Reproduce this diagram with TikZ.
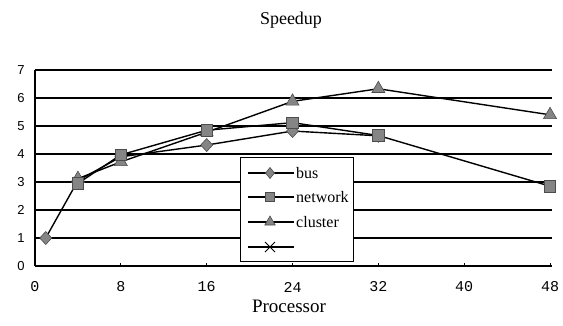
\documentclass[tikz,border=0pt]{standalone}
\usepackage{fontspec}
\setmainfont{Liberation Serif}
\newfontfamily\ylabfont{Liberation Sans}
\newfontfamily\xlabfont{Liberation Mono}
\usetikzlibrary{shapes.geometric}
\definecolor{markgray}{HTML}{858585}

\begin{document}
\begin{tikzpicture}[x=1pt,y=-1pt,
  gridline/.style={line width=1.3pt},
  series/.style={line width=1.4pt, line join=round},
  mk/.style={fill=markgray, draw=black!70, line width=0.6pt, inner sep=0pt, outer sep=0pt},
  dia/.style={mk, diamond, minimum width=12pt, minimum height=13pt},
  sq/.style={mk, rectangle, minimum size=11.5pt},
  tri/.style={mk, regular polygon, regular polygon sides=3, minimum size=15pt},
  ldia/.style={mk, diamond, minimum width=9pt, minimum height=11pt},
  lsq/.style={mk, rectangle, minimum size=9pt},
  ltri/.style={mk, regular polygon, regular polygon sides=3, minimum size=12pt},
  ylab/.style={font=\ylabfont\fontsize{13}{13}\selectfont},
  xlab/.style={font=\xlabfont\fontsize{15}{15}\selectfont},
  legtext/.style={font=\fontsize{16}{16}\selectfont, anchor=west, inner sep=0pt},
]
\useasboundingbox (0,0) rectangle (563,325);

% titles
\node (title) at (291,20) {\fontsize{18}{18}\selectfont Speedup};
\node (xtitle) at (289,306) {\fontsize{19}{19}\selectfont Processor};

% horizontal grid lines and y labels
\foreach \v in {0,...,7} {
  \draw[gridline] (35,{266-28*\v}) -- (552,{266-28*\v});
  \node[ylab] (y\v) at (21,{266-28*\v}) {\v};
}
% y axis
\draw[gridline] (35,70) -- (35,266);

% x ticks and labels
\foreach \v in {0,8,...,48} {
  \draw[line width=1pt] ({35+10.73*\v},266) -- ({35+10.73*\v},262.5);
  \node[xlab] (x\v) at ({35+10.73*\v},287) {\v};
}

% data coordinates
\begin{scope}[shift={(35,266)}, x=10.73pt, y=28pt]
  % bus
  \coordinate (b1) at (1,1);
  \coordinate (b2) at (4,3.05);
  \coordinate (b3) at (8,3.9);
  \coordinate (b4) at (16,4.32);
  \coordinate (b5) at (24,4.82);
  \coordinate (b6) at (32,4.65);
  % network
  \coordinate (n2) at (4,2.95);
  \coordinate (n3) at (8,3.97);
  \coordinate (n4) at (16,4.85);
  \coordinate (n5) at (24,5.12);
  \coordinate (n6) at (32,4.66);
  \coordinate (n7) at (48,2.85);
  % cluster
  \coordinate (c2) at (4,3.12);
  \coordinate (c3) at (8,3.72);
  \coordinate (c4) at (16,4.78);
  \coordinate (c5) at (24,5.88);
  \coordinate (c6) at (32,6.33);
  \coordinate (c7) at (48,5.4);
\end{scope}

% series lines
\draw[series] (b1) -- (b2) -- (b3) -- (b4) -- (b5) -- (b6);
\draw[series] (c2) -- (c3) -- (c4) -- (c5) -- (c6) -- (c7);
\draw[series] (n2) -- (n3) -- (n4) -- (n5) -- (n6) -- (n7);

% markers
\foreach \p in {b1,b2,b3,b4,b5,b6} \node[dia] (m\p) at (\p) {};
\foreach \p in {c2,c3,c4,c5,c6,c7} \node[tri] (m\p) at (\p) {};
\foreach \p in {n2,n3,n4,n5,n6,n7} \node[sq] (m\p) at (\p) {};

% legend
\draw[fill=white, line width=1pt] (240,157) rectangle (353,261);
\foreach \y/\n in {173/1,197/2,222/3,247/4} {
  \coordinate (la\n) at (248,\y);
  \coordinate (lb\n) at (294,\y);
  \draw[series] (la\n) -- (lb\n);
}
\node[ldia] (lk1) at (270,173) {};
\node[lsq] (lk2) at (270,197) {};
\node[ltri] (lk3) at (270,222) {};
\draw[line width=0.9pt] (265,242) -- (275,252) (265,252) -- (275,242);
\node[legtext] (lt1) at (296,173) {bus};
\node[legtext] (lt2) at (296,197) {network};
\node[legtext] (lt3) at (296,222) {cluster};
\end{tikzpicture}
\end{document}
